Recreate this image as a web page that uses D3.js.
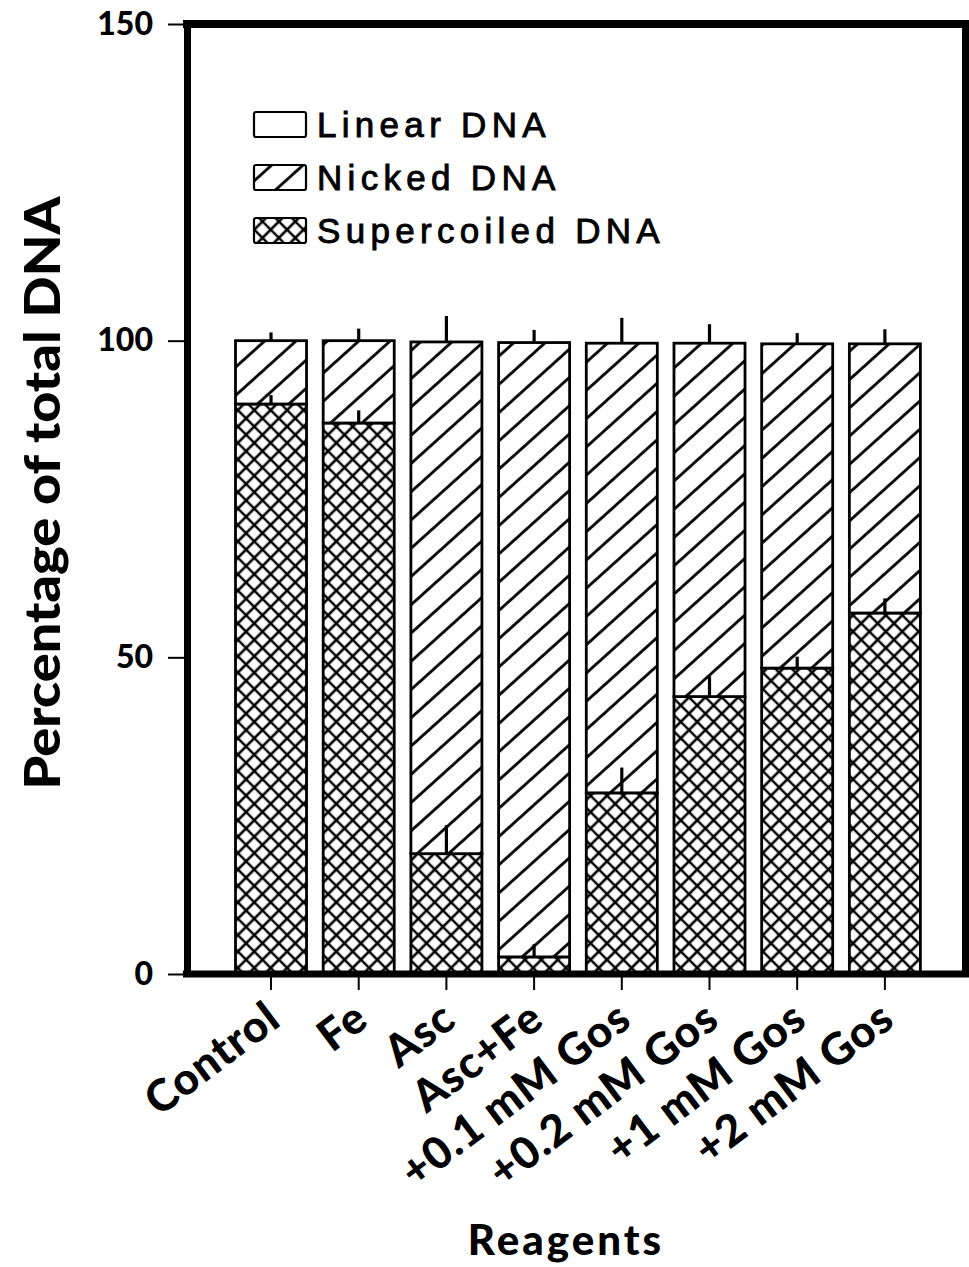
<!DOCTYPE html>
<html>
<head>
<meta charset="utf-8">
<script src="https://cdn.jsdelivr.net/npm/d3@7"></script>
<style>
  body { margin: 0; background: #fff; }
  svg { display: block; }
</style>
</head>
<body>
<div id="chart"></div>
<script>
// reagents on the x axis
var reagents = ["Control", "Fe", "Asc", "Asc+Fe", "+0.1 mM Gos", "+0.2 mM Gos", "+1 mM Gos", "+2 mM Gos"];

// percentages of each DNA form (stacked bottom to top)
var supercoiled = [90, 87, 19, 2.7, 28.6, 43.8, 48.3, 57];
var nicked      = [10, 13, 80.8, 97, 71, 55.8, 51.2, 42.5];
var linear      = [0, 0, 0, 0, 0, 0, 0, 0];

// error bars (up only)
var supercoiledErr = [1.4, 2, 4.5, 2, 4, 3.2, 1.8, 2.3];
var totalErr       = [1.3, 1.9, 4.1, 2, 4, 3, 1.7, 2.3];

var yTicks = [0, 50, 100, 150];

var legendLabels = ["Linear DNA", "Nicked DNA", "Supercoiled DNA"];

var W = 969, H = 1267;
var svg = d3.select("#chart").append("svg")
    .attr("width", W)
    .attr("height", H);

var defs = svg.append("defs");

// diagonal hatch for nicked DNA
var pNick = defs.append("pattern")
    .attr("id", "nicked")
    .attr("patternUnits", "userSpaceOnUse")
    .attr("width", 21)
    .attr("height", 21)
    .attr("patternTransform", "rotate(-42)");
pNick.append("rect").attr("width", 21).attr("height", 21).attr("fill", "#fff");
pNick.append("line")
    .attr("x1", 0).attr("x2", 21)
    .attr("y1", 10.5).attr("y2", 10.5)
    .attr("stroke", "#000").attr("stroke-width", 2.8);

// cross hatch for supercoiled DNA
var pSup = defs.append("pattern")
    .attr("id", "supercoiled")
    .attr("patternUnits", "userSpaceOnUse")
    .attr("width", 11.6)
    .attr("height", 11.6)
    .attr("patternTransform", "rotate(45)");
pSup.append("rect").attr("width", 11.6).attr("height", 11.6).attr("fill", "#fff");
pSup.append("path")
    .attr("d", "M0,5.8H11.6M5.8,0V11.6")
    .attr("stroke", "#000").attr("stroke-width", 2.6)
    .attr("fill", "none");

var fills = { linear: "#fff", nicked: "url(#nicked)", supercoiled: "url(#supercoiled)" };

var x = d3.scaleBand()
    .domain(reagents)
    .range([235.5, 920.4])
    .paddingInner(0.19)
    .paddingOuter(0);

var y = d3.scaleLinear()
    .domain([0, 150])
    .range([974, 24]);

var rows = reagents.map(function(r, i) {
  return { reagent: r, supercoiled: supercoiled[i], nicked: nicked[i], linear: linear[i] };
});

var stack = d3.stack().keys(["supercoiled", "nicked", "linear"]);
var layers = stack(rows);

var g = svg.append("g");

layers.forEach(function(layer) {
  g.selectAll(null)
    .data(layer)
    .enter().append("rect")
    .attr("x", function(d) { return x(d.data.reagent); })
    .attr("y", function(d) { return y(d[1]); })
    .attr("width", x.bandwidth())
    .attr("height", function(d) { return y(d[0]) - y(d[1]); })
    .attr("fill", fills[layer.key])
    .attr("stroke", "#000")
    .attr("stroke-width", 2.8);
});

// error bars
reagents.forEach(function(r, i) {
  var cx = x(r) + x.bandwidth() / 2;
  var top1 = supercoiled[i];
  g.append("line")
    .attr("x1", cx).attr("x2", cx)
    .attr("y1", y(top1)).attr("y2", y(top1 + supercoiledErr[i]))
    .attr("stroke", "#000").attr("stroke-width", 3.2);
  var top2 = supercoiled[i] + nicked[i] + linear[i];
  g.append("line")
    .attr("x1", cx).attr("x2", cx)
    .attr("y1", y(top2)).attr("y2", y(top2 + totalErr[i]))
    .attr("stroke", "#000").attr("stroke-width", 3.2);
});

// frame top and right
svg.append("path")
    .attr("d", "M183," + y(150) + "H966V" + y(0))
    .attr("fill", "none")
    .attr("stroke", "#000")
    .attr("stroke-width", 8);

// y axis
var yAxis = svg.append("g")
    .attr("transform", "translate(187,0)")
    .call(d3.axisLeft(y).tickValues(yTicks).tickSize(19).tickSizeOuter(0).tickPadding(15));
yAxis.select(".domain").attr("stroke-width", 7);
yAxis.selectAll(".tick line").attr("stroke-width", 2);
yAxis.selectAll(".tick text")
    .attr("font-family", "Lato, 'DejaVu Sans', sans-serif")
    .attr("font-weight", 900)
    .attr("font-size", 32)
    .attr("fill", "#000");

// x axis
var xAxis = svg.append("g")
    .attr("transform", "translate(0," + y(0) + ")")
    .call(d3.axisBottom(x).tickSize(16).tickSizeOuter(0).tickFormat(""));
xAxis.select(".domain")
    .attr("d", "M183,0H969")
    .attr("stroke-width", 7);
xAxis.selectAll(".tick line").attr("stroke-width", 2);

// rotated reagent labels
svg.append("g").selectAll("text")
    .data(reagents)
    .enter().append("text")
    .attr("transform", function(d) {
      return "translate(" + (x(d) + x.bandwidth() / 2 + 12) + ",1024) rotate(-37)";
    })
    .attr("text-anchor", "end")
    .attr("font-family", "Lato, 'DejaVu Sans', sans-serif")
    .attr("font-weight", 900)
    .attr("font-size", 44)
    .attr("letter-spacing", 1)
    .text(function(d) { return d; });

// axis titles
svg.append("text")
    .attr("transform", "translate(60,493) rotate(-90)")
    .attr("text-anchor", "middle")
    .attr("font-family", "Lato, 'DejaVu Sans', sans-serif")
    .attr("font-weight", 900)
    .attr("font-size", 50)
    .attr("textLength", 593)
    .attr("lengthAdjust", "spacingAndGlyphs")
    .text("Percentage of total DNA");

svg.append("text")
    .attr("x", 566)
    .attr("y", 1255)
    .attr("text-anchor", "middle")
    .attr("font-family", "Lato, 'DejaVu Sans', sans-serif")
    .attr("font-weight", 900)
    .attr("font-size", 42)
    .attr("letter-spacing", 3)
    .text("Reagents");

// legend
var legend = svg.append("g");
var legendFills = [fills.linear, fills.nicked, fills.supercoiled];
var legendY = [112, 165, 218];
legendLabels.forEach(function(lab, i) {
  legend.append("rect")
    .attr("x", 254).attr("y", legendY[i])
    .attr("width", 52).attr("height", 25)
    .attr("rx", 2)
    .attr("fill", legendFills[i])
    .attr("stroke", "#000")
    .attr("stroke-width", 2.2);
  legend.append("text")
    .attr("x", 317).attr("y", legendY[i] + 25)
    .attr("font-family", "'Liberation Sans', Arial, sans-serif")
    .attr("font-size", 35)
    .attr("letter-spacing", 5.3)
    .attr("fill", "#000")
    .attr("stroke", "#000")
    .attr("stroke-width", 0.9)
    .text(lab);
});
</script>
</body>
</html>
